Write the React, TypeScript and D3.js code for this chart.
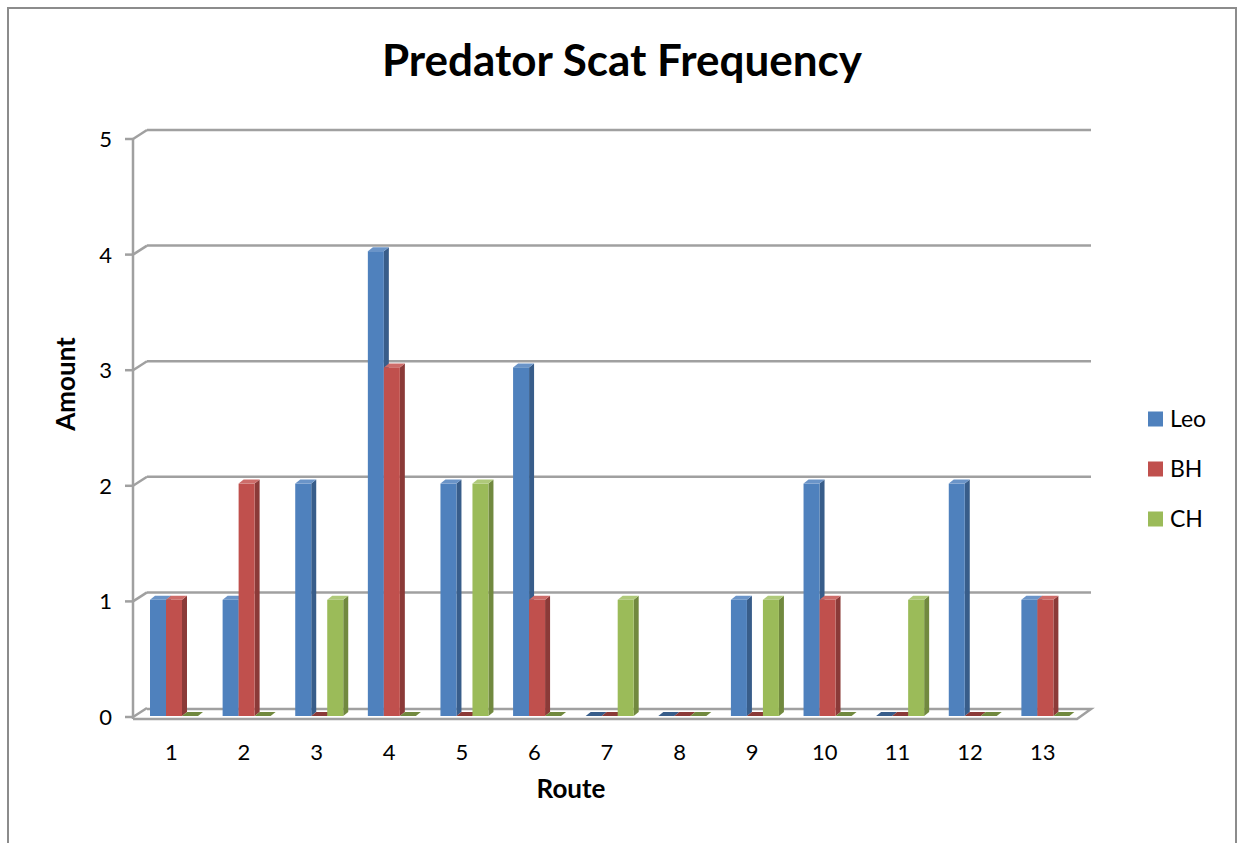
import * as d3 from "d3";

// data
const routes = ["1", "2", "3", "4", "5", "6", "7", "8", "9", "10", "11", "12", "13"];
const seriesNames = ["Leo", "BH", "CH"];
const leo = [1, 1, 2, 4, 2, 3, 0, 0, 1, 2, 0, 2, 1];
const bh = [1, 2, 0, 3, 0, 1, 0, 0, 0, 1, 0, 0, 1];
const ch = [0, 0, 1, 0, 2, 0, 1, 0, 1, 0, 1, 0, 0];
const yTicks = [0, 1, 2, 3, 4, 5];

const seriesValues = [leo, bh, ch];
const front = ["#4f81bd", "#c0504d", "#9bbb59"];
const side = ["#385d8a", "#8b3a38", "#71893f"];
const top = ["#6a94c8", "#cd6c69", "#afc97a"];

const FONT = "Lato, 'Open Sans', sans-serif";

export default function App() {
  const left = 133;
  const right = 1077;
  const y0 = 717;
  const y5 = 139;
  // depth of back wall
  const wdx = 14;
  const wdy = 9;
  // depth of bars
  const bdx = 5;
  const bdy = 4;
  const gridColor = "#a0a0a0";

  const x = d3.scaleBand<string>().domain(routes).range([left, right]);
  const y = d3.scaleLinear().domain([0, 5]).range([y0, y5]);
  const yBar = d3.scaleLinear().domain([0, 5]).range([y0 - 1, y5 - 4]);
  const barW = 16;
  const groupOffset = 17;

  return (
    <svg
      width={1238}
      height={843}
      style={{ position: "absolute", left: 0, top: 0, background: "#fff" }}
    >
      <rect x={8} y={8} width={1228} height={900} fill="#fff" stroke="#8c8c8c" strokeWidth={2} />

      <text x={622} y={76} textAnchor="middle" fontFamily={FONT} fontWeight="bold" fontSize={44} fill="#000">
        Predator Scat Frequency
      </text>

      {/* back wall gridlines and left connectors */}
      {yTicks.map((t) => (
        <g key={t}>
          {t > 0 && (
            <line x1={left + wdx} x2={right + wdx} y1={y(t) - wdy} y2={y(t) - wdy} stroke={gridColor} strokeWidth={2.5} />
          )}
          <line x1={left} x2={left + wdx} y1={y(t)} y2={y(t) - wdy} stroke={gridColor} strokeWidth={2.5} />
          <line x1={left - 8} x2={left} y1={y(t)} y2={y(t)} stroke={gridColor} strokeWidth={2.5} />
          <text x={112} y={y(t)} dy="0.36em" textAnchor="end" fontFamily={FONT} fontSize={22} fill="#000">
            {t}
          </text>
        </g>
      ))}

      {/* floor */}
      <path
        d={`M${left},${y0 + 2} L${right},${y0 + 2} L${right + wdx},${y0 - wdy + 1} L${left + wdx},${y0 - wdy + 1}`}
        fill="none"
        stroke={gridColor}
        strokeWidth={2.5}
      />
      <line x1={left} x2={left} y1={y5} y2={y0 + 2} stroke={gridColor} strokeWidth={2.5} />

      {/* bars */}
      {routes.map((r, i) => (
        <g key={r}>
          {seriesValues.map((vals, s) => {
            const bx = (x(r) ?? 0) + groupOffset + s * barW;
            const base = yBar(0);
            const ty = yBar(vals[i]);
            if (vals[i] === 0) {
              return (
                <path
                  key={s}
                  d={`M${bx},${base} L${bx + barW},${base} L${bx + barW + bdx},${base - bdy} L${bx + bdx},${base - bdy}Z`}
                  fill={side[s]}
                />
              );
            }
            return (
              <g key={s}>
                <path
                  d={`M${bx + barW},${ty} L${bx + barW + bdx},${ty - bdy} L${bx + barW + bdx},${base - bdy} L${bx + barW},${base}Z`}
                  fill={side[s]}
                />
                <path
                  d={`M${bx},${ty} L${bx + bdx},${ty - bdy} L${bx + barW + bdx},${ty - bdy} L${bx + barW},${ty}Z`}
                  fill={top[s]}
                />
                <rect x={bx} y={ty} width={barW} height={base - ty} fill={front[s]} />
              </g>
            );
          })}
        </g>
      ))}

      {/* x tick labels */}
      {routes.map((r) => (
        <text
          key={r}
          x={(x(r) ?? 0) + x.bandwidth() / 2 + 2}
          y={752}
          dy="0.36em"
          textAnchor="middle"
          fontFamily={FONT}
          fontSize={22}
          fill="#000"
        >
          {r}
        </text>
      ))}

      <text x={571} y={789} dy="0.36em" textAnchor="middle" fontFamily={FONT} fontWeight="bold" fontSize={26} fill="#000">
        Route
      </text>
      <text
        transform="translate(66,384) rotate(-90)"
        dy="0.36em"
        textAnchor="middle"
        fontFamily={FONT}
        fontWeight="bold"
        fontSize={26}
        fill="#000"
      >
        Amount
      </text>

      {/* legend */}
      {seriesNames.map((n, s) => (
        <g key={n} transform={`translate(1148,${419 + s * 50})`}>
          <rect x={0} y={-7.5} width={15} height={15} fill={front[s]} />
          <text x={22} y={0} dy="0.36em" fontFamily={FONT} fontSize={23} fill="#000">
            {n}
          </text>
        </g>
      ))}
    </svg>
  );
}
